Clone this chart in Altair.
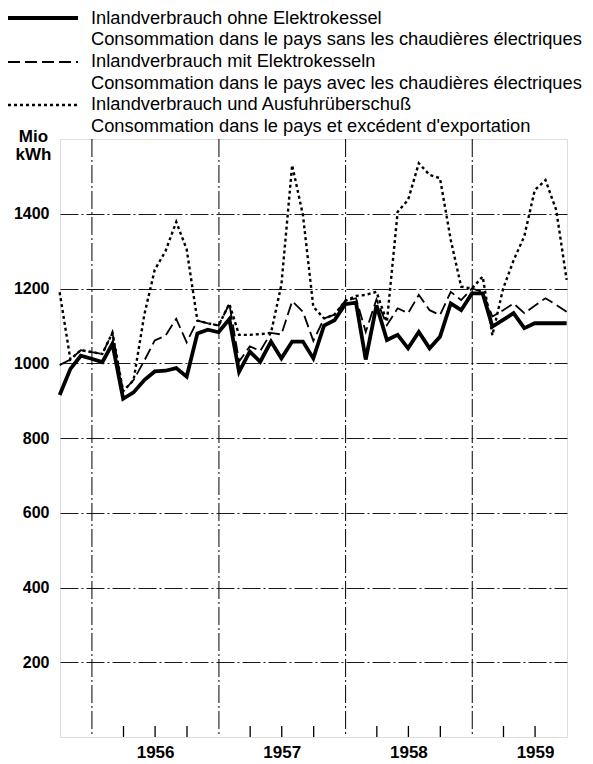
import altair as alt
import pandas as pd

# ---------------- data (monthly values, Sep 1955 .. Sep 1959, plotted at month end) ----------------
months = pd.date_range("1955-09-01", "1959-09-01", freq="MS")

ohne_elektrokessel = [915, 985, 1020, 1012, 1003, 1052, 905, 922, 955, 978, 980, 987, 964,
                      1080, 1090, 1083, 1118, 977, 1031, 1004, 1058, 1013, 1058, 1058, 1013,
                      1101, 1115, 1158, 1162, 1010, 1155, 1062, 1076, 1040, 1084, 1040, 1071,
                      1160, 1142, 1187, 1187, 1098, 1116, 1134, 1094, 1107, 1107, 1107, 1107]

mit_elektrokesseln = [995, 1010, 1035, 1030, 1025, 1082, 925, 955, 1007, 1061, 1074, 1119, 1056,
                      1114, 1107, 1101, 1159, 1005, 1045, 1033, 1081, 1077, 1166, 1138, 1060,
                      1120, 1130, 1167, 1174, 1084, 1171, 1102, 1147, 1134, 1183, 1142, 1129,
                      1191, 1169, 1200, 1191, 1125, 1142, 1160, 1134, 1154, 1174, 1156, 1138]

mit_ausfuhrueberschuss = [1190, 1010, 1035, 1030, 1025, 1082, 925, 955, 1130, 1250, 1300, 1378, 1305,
                          1114, 1107, 1101, 1159, 1076, 1076, 1078, 1081, 1210, 1530, 1397, 1151,
                          1120, 1130, 1167, 1180, 1183, 1191, 1111, 1405, 1437, 1535, 1504, 1495,
                          1330, 1205, 1200, 1232, 1075, 1200, 1275, 1340, 1463, 1490, 1410, 1223]

series_keys = ["ohne", "mit", "ausfuhr"]
legend_de = ["Inlandverbrauch ohne Elektrokessel",
             "Inlandverbrauch mit Elektrokesseln",
             "Inlandverbrauch und Ausfuhrüberschuß"]
legend_fr = ["Consommation dans le pays sans les chaudières électriques",
             "Consommation dans le pays avec les chaudières électriques",
             "Consommation dans le pays et excédent d'exportation"]

year_starts = ["1956-01-01", "1957-01-01", "1958-01-01", "1959-01-01"]
quarter_ticks = ["1956-04-01", "1956-07-01", "1956-10-01",
                 "1957-04-01", "1957-07-01", "1957-10-01",
                 "1958-04-01", "1958-07-01", "1958-10-01",
                 "1959-04-01", "1959-07-01"]
year_label_years = [1956, 1957, 1958, 1959]
y_ticks = [200, 400, 600, 800, 1000, 1200, 1400]

# ---------------- tables ----------------
dates = (months + pd.offsets.MonthEnd(0)).strftime("%Y-%m-%d")
long_rows = []
for key, vals in zip(series_keys, [ohne_elektrokessel, mit_elektrokesseln, mit_ausfuhrueberschuss]):
    for d, v in zip(dates, vals):
        long_rows.append({"date": d, "series": key, "value": v})
df = pd.DataFrame(long_rows)
years_df = pd.DataFrame({"date": year_starts})
q_df = pd.DataFrame({"date": quarter_ticks})

FONT = "Liberation Sans"
W, H = 507, 598

x_scale = alt.Scale(type="utc", domain=[alt.DateTime(year=1955, month=10, date=1, utc=True),
                                        alt.DateTime(year=1959, month=10, date=1, utc=True)])
x_axis = alt.Axis(values=[alt.DateTime(year=y, month=7, date=1, utc=True) for y in year_label_years],
                  format="%Y", grid=False, ticks=False, tickSize=0, domain=False,
                  labelFontSize=17, labelFontWeight="bold", labelPadding=7, labelColor="black",
                  labelFont=FONT, title=None)
y_axis = alt.Axis(values=y_ticks, format="d", grid=True, gridDash=[18, 3, 2, 3], gridColor="black",
                  gridWidth=0.9, ticks=False, tickSize=0, domain=False,
                  labelFontSize=16, labelFontWeight="bold", labelPadding=11, labelColor="black",
                  labelFont=FONT,
                  title=["Mio", "kWh"], titleAngle=0, titleAlign="center", titleBaseline="top",
                  titleX=-27, titleY=-11, titleFontSize=17, titleFontWeight="bold",
                  titleLineHeight=18, titleFont=FONT, titleColor="black")

x_enc = alt.X("date:T", scale=x_scale, axis=x_axis)
y_enc = alt.Y("value:Q", scale=alt.Scale(domain=[0, 1600], nice=False, zero=True), axis=y_axis)

year_rules = alt.Chart(years_df).mark_rule(color="black", strokeWidth=1,
                                           strokeDash=[18, 3, 2, 3]).encode(x=x_enc)
q_rules = alt.Chart(q_df).mark_rule(color="black", strokeWidth=1.3).encode(
    x=x_enc, y=alt.value(H), y2=alt.value(H - 11))

styles = {
    "ausfuhr": dict(strokeWidth=2.4, strokeDash=[3, 3]),
    "mit": dict(strokeWidth=1.8, strokeDash=[12, 5]),
    "ohne": dict(strokeWidth=3.8),
}
line_layers = []
for key in ["ausfuhr", "mit", "ohne"]:
    line_layers.append(
        alt.Chart(df).transform_filter(alt.datum.series == key)
        .mark_line(color="black", strokeJoin="miter", **styles[key])
        .encode(x=x_enc, y=y_enc)
    )

# ---------------- legend (top) ----------------
legend_layers = []
sym_y = [-121, -77, -34]
txt_y = [[-120, -99], [-77, -55], [-34, -12]]
for i, key in enumerate(series_keys):
    legend_layers.append(
        alt.Chart(pd.DataFrame({"s": [key]})).mark_rule(color="black", **styles[key]).encode(
            x=alt.value(-52), x2=alt.value(18), y=alt.value(sym_y[i]))
    )
    for j, txt in enumerate([legend_de[i], legend_fr[i]]):
        legend_layers.append(
            alt.Chart(pd.DataFrame({"t": [txt]})).mark_text(
                align="left", baseline="middle", fontSize=18.3, font=FONT, color="black"
            ).encode(x=alt.value(31), y=alt.value(txt_y[i][j]), text="t:N")
        )

chart = alt.layer(year_rules, q_rules, *line_layers, *legend_layers).properties(
    width=W, height=H,
    autosize=alt.AutoSizeParams(type="none"),
    padding={"left": 52, "top": 131, "right": 16, "bottom": 23},
).configure_view(stroke="black", strokeWidth=2).configure(background="white")

chart.save("out.html", embed_options={"renderer": "svg", "actions": False})
